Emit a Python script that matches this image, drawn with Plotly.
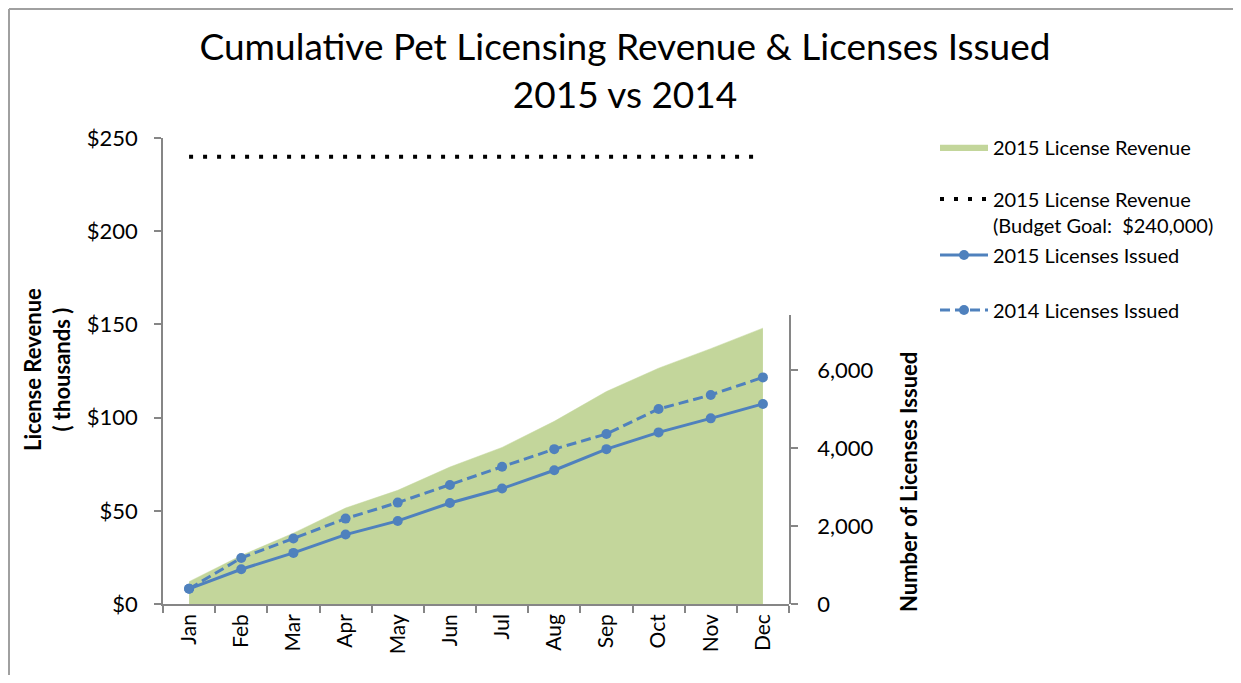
import plotly.graph_objects as go

months = ["Jan", "Feb", "Mar", "Apr", "May", "Jun", "Jul", "Aug", "Sep", "Oct", "Nov", "Dec"]
revenue_2015 = [12, 26, 38, 51.5, 61, 73.5, 84, 98, 114, 126.5, 137, 148]
budget_goal = [240] * 12
licenses_2015 = [390, 890, 1310, 1780, 2130, 2590, 2960, 3430, 3970, 4400, 4760, 5130]
licenses_2014 = [390, 1180, 1680, 2190, 2600, 3050, 3520, 3970, 4360, 5000, 5360, 5810]

FONT = "Lato"
GREEN = "#C3D69B"
BLUE = "#4F81BD"
AXIS = "#868686"

OFF = 8  # page body margin offset
W, H = 1241 - 2 * OFF, 683 - 2 * OFF  # figure fits inside the page without scrollbars
# plot area in reference-picture pixels
L, R, T, B = 163, 789, 138, 604


def px(x):
    return (x - L) / (R - L)


def py(y):
    return (B - y) / (B - T)


fig = go.Figure()

fig.add_trace(go.Scatter(
    x=months, y=revenue_2015, name="2015 License Revenue",
    mode="lines", fill="tozeroy", fillcolor=GREEN,
    line=dict(color=GREEN, width=0.5), legend="legend",
    yaxis="y", xaxis="x",
))
fig.add_trace(go.Scatter(
    x=months, y=budget_goal,
    name="2015 License Revenue<br>(Budget Goal:  $240,000)",
    mode="lines", line=dict(color="black", width=4, dash="4px,10px"),
    legend="legend2", yaxis="y", xaxis="x",
))
fig.add_trace(go.Scatter(
    x=months, y=licenses_2015, name="2015 Licenses Issued",
    mode="lines+markers", line=dict(color=BLUE, width=3),
    marker=dict(color=BLUE, size=10), legend="legend3",
    yaxis="y2", xaxis="x",
))
fig.add_trace(go.Scatter(
    x=months, y=licenses_2014, name="2014 Licenses Issued",
    mode="lines+markers", line=dict(color=BLUE, width=3, dash="10px,5px"),
    marker=dict(color=BLUE, size=10), legend="legend4",
    yaxis="y2", xaxis="x",
))

legend_common = dict(
    x=px(935), xanchor="left", yanchor="middle",
    font=dict(family=FONT, size=20, color="black"), itemwidth=48,
    bgcolor="rgba(0,0,0,0)", valign="top",
)

fig.update_layout(
    width=W, height=H,
    margin=dict(l=L - OFF, r=W - (R - OFF), t=T - OFF, b=H - (B - OFF), pad=0),
    paper_bgcolor="white", plot_bgcolor="rgba(0,0,0,0)",
    font=dict(family=FONT, size=18, color="black"),
    title=dict(
        text="Cumulative Pet Licensing Revenue & Licenses Issued<br>2015 vs 2014",
        font=dict(family=FONT, size=37, color="black"),
        x=(625 - OFF) / W, xanchor="center",
        y=1 - 52 / H, yanchor="top",
    ),
    xaxis=dict(
        type="category", tickson="boundaries",
        showline=True, linecolor=AXIS, linewidth=1.5,
        ticks="outside", ticklen=7, tickcolor=AXIS, tickwidth=1.5,
        tickangle=-90, tickfont=dict(size=21), showgrid=False,
        zeroline=False, range=[-0.5, 11.5],
    ),
    yaxis=dict(
        range=[0, 250], tickvals=[0, 50, 100, 150, 200, 250],
        ticktext=["$0", "$50", "$100", "$150", "$200", "$250"],
        showline=True, linecolor=AXIS, linewidth=1.5,
        ticks="outside", ticklen=7, tickcolor=AXIS, tickwidth=1.5,
        tickfont=dict(size=22), showgrid=False, zeroline=False,
        ticklabelstandoff=12,
    ),
    yaxis2=dict(
        domain=[0, py(315)], anchor="x", side="right",
        range=[0, 7410], tickvals=[0, 2000, 4000, 6000],
        ticktext=["0", "2,000", "4,000", "6,000"],
        showline=True, linecolor=AXIS, linewidth=1.5,
        ticks="outside", ticklen=7, tickcolor=AXIS, tickwidth=1.5,
        tickfont=dict(size=22), showgrid=False, zeroline=False,
        ticklabelstandoff=15,
    ),
    legend=dict(legend_common, y=py(147)),
    legend2=dict(legend_common, y=py(212)),
    legend3=dict(legend_common, y=py(255)),
    legend4=dict(legend_common, y=py(310)),
    showlegend=True,
)

fig.add_annotation(
    text="<b>License Revenue<br>( thousands )</b>", textangle=-90,
    xref="paper", yref="paper", x=px(47), y=py(370),
    xanchor="center", yanchor="middle", showarrow=False,
    font=dict(family=FONT, size=22, color="black"),
)
fig.add_annotation(
    text="<b>Number of Licenses Issued</b>", textangle=-90,
    xref="paper", yref="paper", x=px(908), y=py(482),
    xanchor="center", yanchor="middle", showarrow=False,
    font=dict(family=FONT, size=22, color="black"),
)

# outer chart border (top and left edges visible)
fig.add_shape(type="line", xref="paper", yref="paper",
              x0=px(9), x1=px(1260), y0=py(9), y1=py(9),
              line=dict(color="#A0A0A0", width=2))
fig.add_shape(type="line", xref="paper", yref="paper",
              x0=px(9), x1=px(9), y0=py(9), y1=py(700),
              line=dict(color="#A0A0A0", width=2))

fig.write_html("out.html")
